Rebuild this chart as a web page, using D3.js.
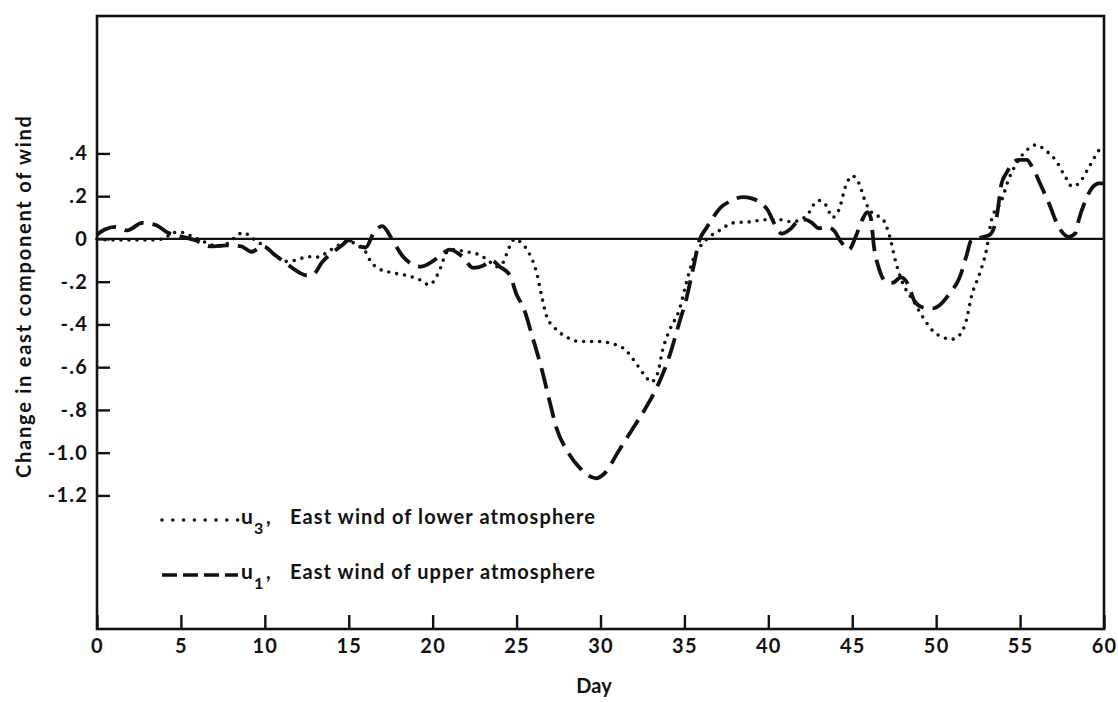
<!DOCTYPE html>
<html><head><meta charset="utf-8">
<script src="https://cdn.jsdelivr.net/npm/d3@7"></script>
<style>body{margin:0;background:#fff} svg{display:block}</style>
</head><body><svg id="c" width="1118" height="702"></svg>
<script>
// u3: east wind of lower atmosphere (dotted)
const u3Days = [0,1,2,3,4,4.5,5.1,5.7,6.6,7.2,7.8,8.2,8.7,9.0,9.4,10.0,10.6,11.2,11.8,12.6,13.2,13.75,14.5,15.0,15.5,16.0,16.3,16.7,17.4,18.4,19.2,19.8,20.2,20.5,20.8,21.2,22.0,22.8,23.3,23.8,24.2,24.5,24.9,25.3,25.7,26.2,26.5,26.8,27.2,28.0,28.75,29.9,30.7,31.5,32.1,32.7,33.0,33.4,33.7,34.1,34.7,35.1,35.5,35.9,36.5,37.1,37.9,38.9,39.9,40.7,41.4,42.3,42.8,43.0,43.5,43.8,44.2,44.6,45.0,45.4,45.8,46.2,46.8,47.2,47.6,48.0,48.6,49.2,49.8,50.4,50.9,51.4,51.8,52.1,52.6,53.0,53.3,53.9,54.3,54.8,55.4,55.95,56.5,57.1,57.7,58.1,58.5,59.1,59.7,60];
const u3Values = [0,-0.005,-0.005,-0.005,0,0.03,0.03,0.01,-0.02,-0.035,-0.02,0.005,0.03,0.02,-0.005,-0.035,-0.075,-0.105,-0.1,-0.083,-0.085,-0.06,-0.025,-0.01,-0.03,-0.06,-0.105,-0.135,-0.155,-0.17,-0.19,-0.215,-0.18,-0.13,-0.066,-0.05,-0.06,-0.075,-0.1,-0.13,-0.11,-0.05,0,-0.02,-0.06,-0.16,-0.27,-0.365,-0.41,-0.46,-0.48,-0.48,-0.49,-0.52,-0.58,-0.645,-0.67,-0.63,-0.52,-0.43,-0.33,-0.21,-0.1,-0.04,0.01,0.04,0.075,0.08,0.09,0.09,0.08,0.11,0.17,0.18,0.15,0.1,0.135,0.245,0.295,0.26,0.17,0.12,0.095,0.02,-0.11,-0.205,-0.285,-0.365,-0.43,-0.46,-0.47,-0.45,-0.38,-0.27,-0.16,-0.05,0.09,0.18,0.275,0.355,0.415,0.44,0.415,0.37,0.29,0.245,0.26,0.335,0.415,0.44];
// u1: east wind of upper atmosphere (dashed)
const u1Days = [0,0.5,1.1,1.8,2.7,3.5,4.2,5.1,5.8,6.8,7.7,8.6,9.2,9.9,10.6,11.2,11.8,12.5,12.9,13.4,14.0,14.6,15.0,15.5,16.0,16.5,17.0,17.6,18.2,18.7,19.3,19.9,20.5,21.0,21.8,22.4,23.0,23.5,24.0,24.6,25.0,25.4,25.95,26.5,27.0,27.4,28.0,28.75,29.75,30.2,31.1,31.9,32.7,33.5,34.1,34.7,35.1,35.5,35.9,36.3,36.7,37.2,37.7,38.5,39.0,39.6,40.0,40.3,40.8,41.3,41.8,42.2,42.6,43.0,43.5,43.9,44.3,44.8,45.2,45.6,45.9,46.1,46.3,46.6,47.0,47.4,47.9,48.4,48.7,49.2,49.8,50.2,50.8,51.4,51.8,52.1,52.6,53.2,53.6,53.9,54.2,54.9,55.4,55.7,56.3,56.7,57.3,57.9,58.3,58.5,58.9,59.3,59.7,60];
const u1Values = [0.02,0.045,0.056,0.04,0.075,0.065,0.03,0.01,-0.005,-0.035,-0.03,-0.035,-0.06,-0.035,-0.075,-0.11,-0.145,-0.17,-0.165,-0.11,-0.065,-0.03,-0.005,-0.03,-0.04,0.03,0.06,-0.005,-0.08,-0.115,-0.13,-0.11,-0.075,-0.05,-0.085,-0.135,-0.125,-0.1,-0.13,-0.17,-0.26,-0.32,-0.46,-0.61,-0.77,-0.89,-0.99,-1.07,-1.12,-1.10,-0.99,-0.89,-0.79,-0.67,-0.55,-0.39,-0.285,-0.145,-0.005,0.05,0.1,0.15,0.175,0.196,0.19,0.165,0.13,0.08,0.025,0.045,0.085,0.09,0.075,0.05,0.055,0.04,-0.01,-0.05,0.01,0.09,0.125,0.1,-0.04,-0.14,-0.2,-0.205,-0.18,-0.225,-0.29,-0.32,-0.325,-0.31,-0.255,-0.18,-0.08,-0.005,0.005,0.02,0.1,0.26,0.31,0.37,0.37,0.34,0.24,0.17,0.056,0.01,0.028,0.09,0.18,0.24,0.26,0.26];

const xTickValues = [0,5,10,15,20,25,30,35,40,45,50,55,60];
const yTickValues = [0.4,0.2,0,-0.2,-0.4,-0.6,-0.8,-1.0,-1.2];
const yTickLabels = [".4",".2","0","-.2","-.4","-.6","-.8","-1.0","-1.2"];
const seriesSymbols = ["3","1"];
const seriesNames = ["East wind of lower atmosphere","East wind of upper atmosphere"];
const xTitle = "Day";
const yTitle = "Change in east component of wind";

const FONT = "Lato, 'Open Sans', sans-serif";
const INK = "#111";
const svg = d3.select("#c");
svg.append("rect").attr("width",1118).attr("height",702).attr("fill","#fff");

const L=97, R=1104, T=16, B=629;
const x = d3.scaleLinear().domain([0,60]).range([L,R]);
const y = d3.scaleLinear().domain([-1.825,1.043]).range([B,T]);

// frame
svg.append("rect").attr("x",L).attr("y",T).attr("width",R-L).attr("height",B-T)
  .attr("fill","none").attr("stroke",INK).attr("stroke-width",2.6);
// zero line
svg.append("line").attr("x1",L).attr("x2",R).attr("y1",y(0)).attr("y2",y(0))
  .attr("stroke",INK).attr("stroke-width",2.2);

// axes
const ya = svg.append("g").attr("transform",`translate(${L},0)`)
  .call(d3.axisLeft(y).tickValues(yTickValues).tickFormat((d,i)=>yTickLabels[i]).tickSize(-13).tickPadding(9));
const xa = svg.append("g").attr("transform",`translate(0,${B})`)
  .call(d3.axisBottom(x).tickValues(xTickValues).tickSize(-14).tickPadding(10));
[ya,xa].forEach(g=>{
  g.select(".domain").remove();
  g.selectAll(".tick line").attr("stroke",INK).attr("stroke-width",2.4);
  g.selectAll(".tick text").attr("fill",INK).style("font-family",FONT)
    .style("font-size","20px").style("font-weight","700").style("letter-spacing","1.2px");
});

// series lines
const line = d3.line().x(d=>x(d[0])).y(d=>y(d[1])).curve(d3.curveMonotoneX);
const u3 = u3Days.map((d,i)=>[d,u3Values[i]]);
const u1 = u1Days.map((d,i)=>[d,u1Values[i]]);
svg.append("path").datum(u3).attr("d",line).attr("fill","none").attr("stroke",INK)
  .attr("stroke-width",3.6).attr("stroke-linecap","round").attr("stroke-dasharray","0 8");
svg.append("path").datum(u1).attr("d",line).attr("fill","none").attr("stroke",INK)
  .attr("stroke-width",3.8).attr("stroke-dasharray","21 9");

// legend
const legY = [520, 575];
const legStyles = [{dash:"0 10.8",cap:"round",w:3.6},{dash:"15 6",cap:"butt",w:3.6}];
legY.forEach((ly,i)=>{
  svg.append("line").attr("x1",162).attr("x2",238).attr("y1",ly).attr("y2",ly)
    .attr("stroke",INK).attr("stroke-width",legStyles[i].w).attr("stroke-linecap",legStyles[i].cap)
    .attr("stroke-dasharray",legStyles[i].dash);
  const base = ly + 4;
  svg.append("text").attr("x",241).attr("y",base).text("u")
    .attr("fill",INK).style("font-family",FONT).style("font-size","21px").style("font-weight","700");
  svg.append("text").attr("x",254).attr("y",base+10).text(seriesSymbols[i])
    .attr("fill",INK).style("font-family",FONT).style("font-size","16px").style("font-weight","700");
  svg.append("text").attr("x",266).attr("y",base).text(",")
    .attr("fill",INK).style("font-family",FONT).style("font-size","20px").style("font-weight","700");
  svg.append("text").attr("x",290).attr("y",base).text(seriesNames[i])
    .attr("textLength",305).attr("lengthAdjust","spacing")
    .attr("fill",INK).style("font-family",FONT).style("font-size","20px").style("font-weight","700");
});

// titles
svg.append("text").attr("transform","translate(31,297) rotate(-90)").attr("text-anchor","middle")
  .attr("textLength",362).attr("lengthAdjust","spacing").text(yTitle)
  .attr("fill",INK).style("font-family",FONT).style("font-size","20px").style("font-weight","700");
svg.append("text").attr("x",594).attr("y",693).attr("text-anchor","middle").text(xTitle)
  .attr("fill",INK).style("font-family",FONT).style("font-size","20px").style("font-weight","700");
</script></body></html>
